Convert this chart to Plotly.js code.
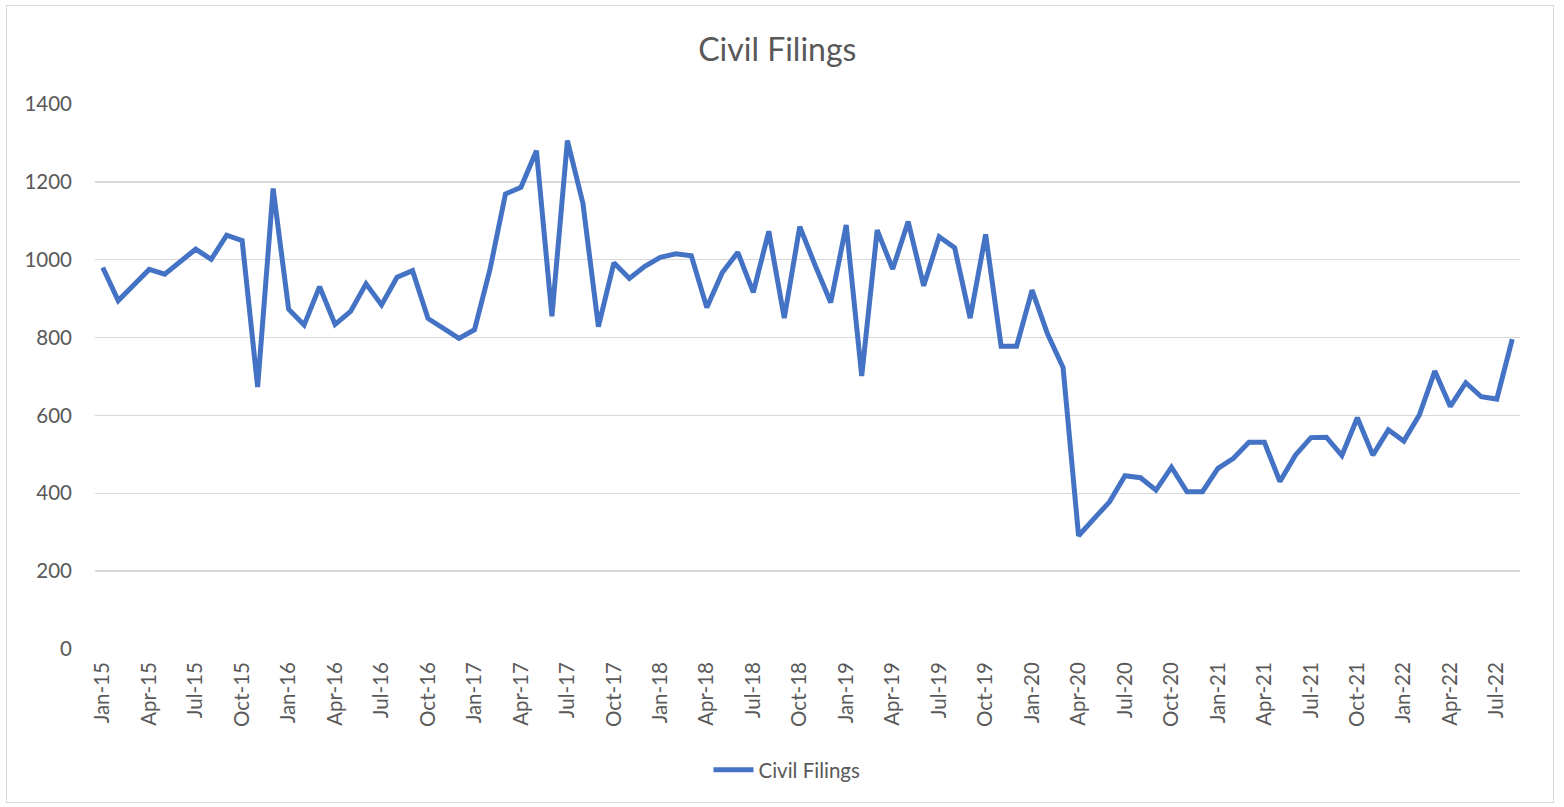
<!DOCTYPE html>
<html>
<head>
<meta charset="utf-8">
<script src="https://cdn.plot.ly/plotly-3.0.1.min.js"></script>
<style>
  html, body { margin: 0; padding: 0; background: #ffffff; }
  #wrap { position: relative; width: 1564px; height: 807px; }
  #chart { position: absolute; left: 0; top: 0; width: 1564px; height: 807px; }
  #frame { position: absolute; left: 6px; top: 5px; width: 1546px; height: 796px; border: 1px solid #d9d9d9; pointer-events: none; }
</style>
</head>
<body>
<div id="wrap"><div id="chart"></div><div id="frame"></div></div>
<script>
const monthNames = ["Jan","Feb","Mar","Apr","May","Jun","Jul","Aug","Sep","Oct","Nov","Dec"];
const startYear = 15, pointCount = 92;
const months = [];
for (let i = 0; i < pointCount; i++) {
  months.push(monthNames[i % 12] + "-" + (startYear + Math.floor(i / 12)));
}
const civilFilings = [
  980, 895, 935, 975, 963, 995, 1027, 1001, 1063, 1049, 673, 1183,
  873, 832, 931, 834, 867, 938, 884, 955, 972, 849, 823, 798,
  820, 975, 1169, 1186, 1280, 855, 1306, 1145, 828, 992, 952, 983,
  1006, 1015, 1010, 877, 967, 1019, 916, 1073, 850, 1085, 985, 890,
  1089, 701, 1076, 976, 1098, 933, 1059, 1031, 850, 1065, 778, 778,
  922, 809, 723, 291, 335, 378, 445, 440, 408, 467, 404, 404,
  464, 490, 531, 531, 430, 498, 543, 544, 497, 594, 498, 563,
  534, 601, 714, 623, 684, 648, 642, 796
];
const tickLabels = months.filter((m, i) => i % 3 === 0);
const yTicks = [0, 200, 400, 600, 800, 1000, 1200, 1400];

const textColor = "#595959";
const fontFam = "Lato, 'Open Sans', sans-serif";

Plotly.newPlot("chart", [{
  x: months,
  y: civilFilings,
  type: "scatter",
  mode: "lines",
  name: "Civil Filings",
  line: { color: "#4472C4", width: 5, shape: "linear" }
}], {
  width: 1564, height: 807,
  margin: { l: 95, r: 44, t: 104, b: 158 },
  paper_bgcolor: "rgba(0,0,0,0)",
  plot_bgcolor: "#ffffff",
  title: { text: "Civil Filings", x: 0.497, xanchor: "center", y: 0.938, yanchor: "middle",
           font: { family: fontFam, size: 32, color: textColor } },
  xaxis: {
    type: "category",
    range: [-0.5, 91.5],
    tickmode: "array",
    tickvals: tickLabels,
    ticktext: tickLabels,
    tickangle: -90,
    showgrid: false,
    showline: false,
    zeroline: false,
    ticks: "",
    ticklabelstandoff: 8,
    tickfont: { family: fontFam, size: 20.5, color: textColor }
  },
  yaxis: {
    range: [0, 1400],
    tickmode: "array",
    tickvals: yTicks,
    showgrid: true,
    gridcolor: "#d9d9d9",
    gridwidth: 1.3,
    zeroline: false,
    showline: false,
    ticks: "",
    ticklabelstandoff: 22,
    tickfont: { family: fontFam, size: 20.5, color: textColor }
  },
  showlegend: true,
  legend: {
    orientation: "h", x: 0.4856, xanchor: "center", y: -0.222, yanchor: "middle",
    font: { family: fontFam, size: 20.5, color: textColor },
    itemwidth: 40
  }
}, { displayModeBar: false, staticPlot: true });
</script>
</body>
</html>
